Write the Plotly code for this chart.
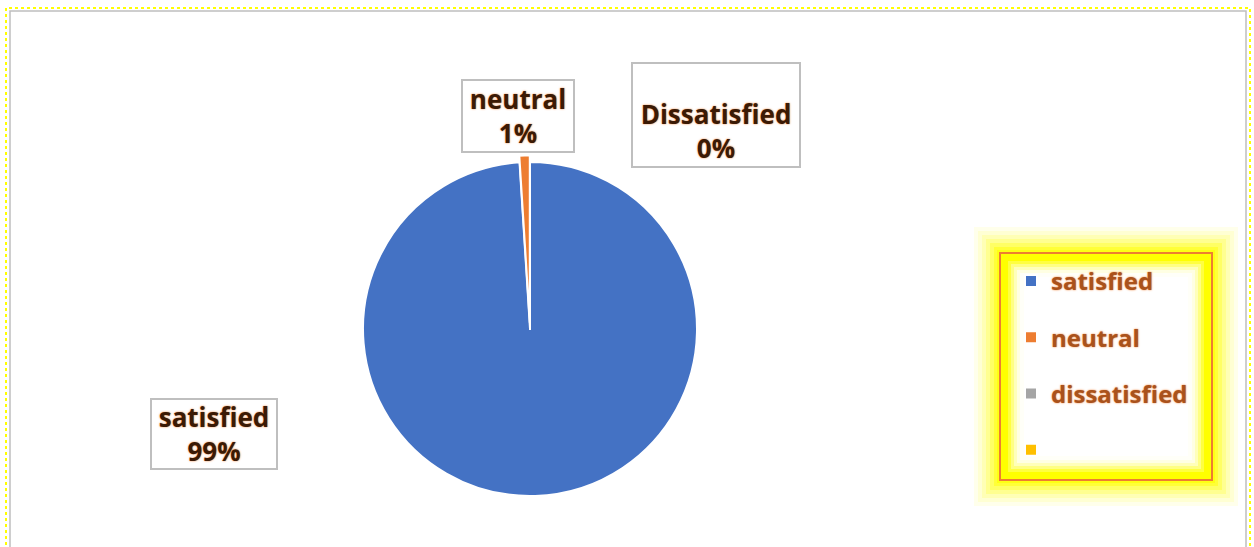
import plotly.graph_objects as go

# ---- data ----
categories = ["satisfied", "neutral", "dissatisfied", " "]
label_names = ["satisfied", "neutral", "Dissatisfied", ""]
values = [99, 1, 0, 0]
colors = ["#4472C4", "#ED7D31", "#A5A5A5", "#FFC000"]
pulls = [0, 0.04, 0, 0]

W, H = 1254, 547
FONT = "Open Sans"


def px(x):
    return x / W


def py(y):
    return 1 - y / H


fig = go.Figure()

# pie geometry (pixel centre / radius)
cx, cy, R = 530, 329, 167
half = R * (1 + max(pulls))
fig.add_trace(go.Pie(
    labels=categories,
    values=values,
    marker=dict(colors=colors, line=dict(color="white", width=2)),
    pull=pulls,
    sort=False,
    direction="clockwise",
    rotation=0,
    textinfo="none",
    showlegend=False,
    hoverinfo="label+percent",
    domain=dict(x=[px(cx - half), px(cx + half)], y=[py(cy + half), py(cy - half)]),
))

# legend proxies
for i, (c, col) in enumerate(zip(categories, colors)):
    fig.add_trace(go.Scatter(
        x=[None], y=[None], mode="markers", name=c,
        legendgroup=f"g{i}",
        marker=dict(symbol="square", size=12, color=col, line=dict(color="white", width=2)),
    ))

# data label boxes (centre x, centre y, width, height, vertical text alignment)
box_pos = [(214, 434, 124, 68, "middle"), (518, 116, 110, 70, "middle"),
           (716, 115, 166, 102, "bottom"), None]
annotations = []
for name, v, pos in zip(label_names, values, box_pos):
    if pos is None:
        continue
    x, y, w, h, va = pos
    annotations.append(dict(
        x=px(x), y=py(y), xref="paper", yref="paper",
        text=f"<b>{name}<br>{v}%</b>", showarrow=False,
        width=w, height=h, align="center", valign=va,
        bordercolor="#BFBFBF", borderwidth=2, borderpad=0, bgcolor="white",
        font=dict(family=FONT, size=26, color="#3B1A05", shadow="0px 0px 2px #ED7D31"),
        xanchor="center", yanchor="middle",
    ))

shapes = []
# outer frame
shapes.append(dict(type="rect", xref="paper", yref="paper",
                   x0=px(6), x1=px(1250), y0=py(580), y1=py(8),
                   line=dict(color="#FFFF00", width=2, dash="dot")))
shapes.append(dict(type="rect", xref="paper", yref="paper",
                   x0=px(10), x1=px(1246), y0=py(580), y1=py(11),
                   line=dict(color="#BFBFBF", width=1.5)))

# legend glow
L0, L1, T0, T1 = 1000, 1212, 253, 480
for d, op in [(26, 0.08), (22, 0.1), (18, 0.14), (14, 0.2), (10, 0.3), (6, 0.45), (3, 0.65)]:
    shapes.append(dict(type="rect", xref="paper", yref="paper", layer="below",
                       x0=px(L0 - d), x1=px(L1 + d), y0=py(T1 + d), y1=py(T0 - d),
                       fillcolor=f"rgba(255,255,0,{op})", line=dict(width=0)))
shapes.append(dict(type="rect", xref="paper", yref="paper", layer="below",
                   x0=px(L0), x1=px(L1), y0=py(T1), y1=py(T0),
                   fillcolor="#FFFF00", line=dict(width=0)))
for d, op in [(8, 0.25), (11, 0.35), (14, 0.45), (17, 0.6), (20, 0.75), (24, 0.9), (28, 1.0)]:
    shapes.append(dict(type="rect", xref="paper", yref="paper", layer="below",
                       x0=px(L0 + d), x1=px(L1 - d), y0=py(T1 - d), y1=py(T0 + d),
                       fillcolor=f"rgba(255,255,255,{op})", line=dict(width=0)))
shapes.append(dict(type="rect", xref="paper", yref="paper", layer="above",
                   x0=px(L0), x1=px(L1), y0=py(T1), y1=py(T0),
                   fillcolor="rgba(0,0,0,0)", line=dict(color="#ED7D31", width=2)))

fig.update_layout(
    width=W, height=H,
    margin=dict(l=0, r=0, t=0, b=0),
    paper_bgcolor="white", plot_bgcolor="white",
    xaxis=dict(visible=False, domain=[0.99, 1.0]),
    yaxis=dict(visible=False, domain=[0.99, 1.0]),
    shapes=shapes,
    annotations=annotations,
    showlegend=True,
    legend=dict(
        x=px(1011), y=py(259), xanchor="left", yanchor="top",
        bgcolor="rgba(0,0,0,0)", borderwidth=0,
        tracegroupgap=22,
        font=dict(family=FONT, size=24, color="#A9521C", weight="bold",
                  shadow="0px 0px 2px #ED7D31"),
        itemclick=False,
    ),
)

fig.write_html("out.html", config={"displayModeBar": False},
               post_script="document.body.style.margin='0';document.body.style.overflow='hidden';")
